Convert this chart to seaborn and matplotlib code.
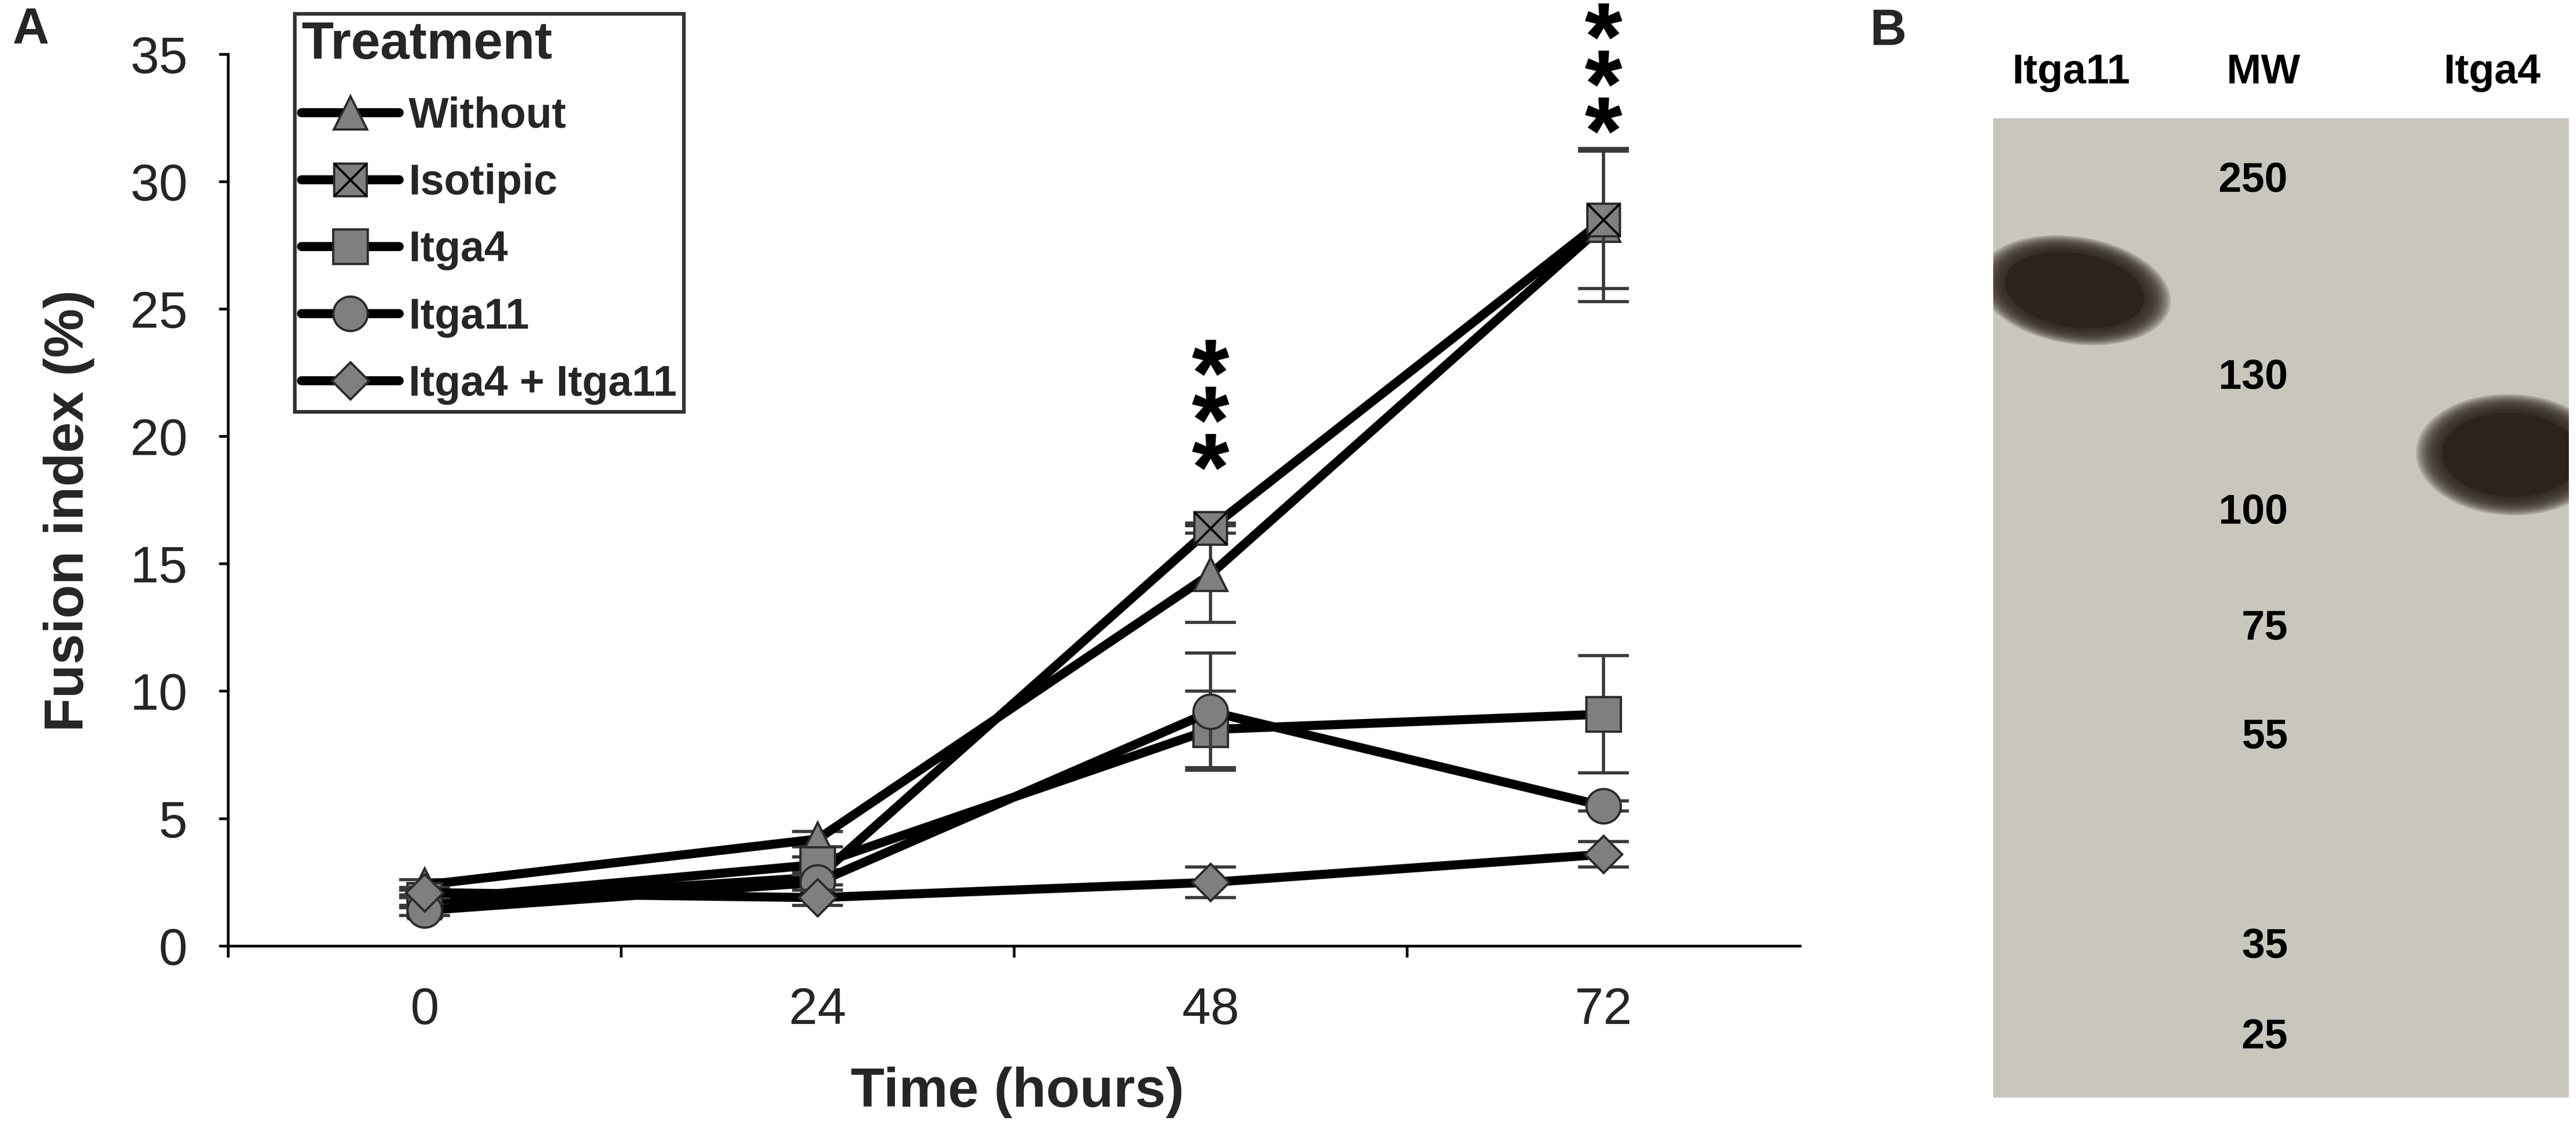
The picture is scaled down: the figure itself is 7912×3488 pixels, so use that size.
import matplotlib
matplotlib.use("Agg")
import matplotlib.pyplot as plt
from matplotlib.lines import Line2D
from matplotlib.patches import Ellipse
import numpy as np
import pandas as pd
import seaborn as sns

# ---- data ----
time_labels = ["0", "24", "48", "72"]
treatments = ["Without", "Isotipic", "Itga4", "Itga11", "Itga4 + Itga11"]

without = [2.4, 4.2, 14.6, 28.3]
without_se = [0.2, 0.3, 1.9, 3.0]
isotipic = [1.7, 2.7, 16.4, 28.5]
isotipic_se = [0.2, 0.3, 0.2, 2.7]
itga4 = [1.8, 3.2, 8.5, 9.1]
itga4_se = [0.2, 0.3, 1.5, 2.3]
itga11 = [1.4, 2.5, 9.2, 5.5]
itga11_se = [0.2, 0.3, 2.3, 0.2]
combo = [2.1, 1.9, 2.5, 3.6]
combo_se = [0.2, 0.3, 0.6, 0.5]

sig_time = ["48", "72"]
sig_stars = [3, 3]

# western blot
mw_ladder = [250, 130, 100, 75, 55, 35, 25]
lanes = ["Itga11", "MW", "Itga4"]
band_lane = ["Itga11", "Itga4"]
band_kda = [174, 112]

# ---- layout ----
ladder_y = [193, 798, 1212, 1568, 1902, 2545, 2823]   # gel pixel rows of ladder labels
lane_x = {"Itga11": 240, "MW": 830, "Itga4": 1532}
band_x = {"Itga11": 250, "Itga4": 1590}
band_shape = {"Itga11": (480, 265, 9), "Itga4": (470, 300, 2)}
gel_w, gel_h = 1768, 3007
star_base = [19.4, 32.6]
star_step = 1.85

GREY = "#7f7f7f"
EDGE = "#2b2b2b"
LW = 10
markers = {"Without": ("^", 37), "Isotipic": ("s", 36), "Itga4": ("s", 38),
           "Itga11": ("o", 38), "Itga4 + Itga11": ("D", 29)}

sns.set_theme(style="white")
plt.rcParams["font.family"] = ["Liberation Sans", "DejaVu Sans"]
plt.rcParams["mathtext.fontset"] = "custom"
plt.rcParams["mathtext.bf"] = "Liberation Sans:bold"

df = pd.DataFrame({
    "time": time_labels * len(treatments),
    "pos": list(range(len(time_labels))) * len(treatments),
    "treatment": np.repeat(treatments, len(time_labels)),
    "fusion": without + isotipic + itga4 + itga11 + combo,
    "se": without_se + isotipic_se + itga4_se + itga11_se + combo_se,
})

fig = plt.figure(figsize=(39.56, 17.44), dpi=200)
ax = fig.add_axes([0.0886, 0.1672, 0.6102, 0.7850])

for i, name in enumerate(treatments):
    sub = df[df["treatment"] == name]
    ax.errorbar(sub["pos"], sub["fusion"], yerr=sub["se"], fmt="none",
                ecolor="#3a3a3a", elinewidth=3.5, capsize=28, capthick=3.5,
                zorder=2 + i)
    m, ms = markers[name]
    sns.lineplot(data=sub, x="pos", y="fusion", ax=ax, color="black",
                 lw=LW, marker=m, markersize=ms, markerfacecolor=GREY,
                 markeredgecolor=EDGE, markeredgewidth=2.5,
                 errorbar=None, legend=False, zorder=2.5 + i)
    if name == "Isotipic":
        ax.plot(sub["pos"], sub["fusion"], ls="none", marker="x", ms=36,
                mec="black", mew=2.5, zorder=2.6 + i)

# significance stars
for t, n, base in zip(sig_time, sig_stars, star_base):
    xpos = time_labels.index(t)
    ys = [base + k * star_step for k in range(n)]
    ax.plot([xpos] * n, ys, ls="none", marker=r"$\mathbf{*}$", ms=40,
            color="black", clip_on=False, zorder=10)

ax.set_xlim(-0.5, 3.5)
ax.set_ylim(0, 35)
ax.set_yticks(range(0, 36, 5))
ax.set_yticklabels([str(v) for v in range(0, 36, 5)], fontsize=57)
ax.set_xticks([-0.5, 0.5, 1.5, 2.5])
ax.set_xticklabels([])
ax.set_xticks(range(len(time_labels)), minor=True)
ax.set_xticklabels(time_labels, minor=True, fontsize=57)
ax.tick_params(axis="x", which="major", direction="out", length=12.5, width=3,
               bottom=True, color="black")
ax.tick_params(axis="x", which="minor", length=0, pad=45)
ax.tick_params(axis="y", direction="out", length=10, width=3, pad=35,
               left=True, color="black")
sns.despine(ax=ax)
for sp in ["left", "bottom"]:
    ax.spines[sp].set_linewidth(3)
    ax.spines[sp].set_color("black")

ax.set_xlabel("Time (hours)", fontsize=61, fontweight="bold", va="center")
ax.xaxis.set_label_coords(0.502, -0.164)
ax.set_ylabel("Fusion index (%)", fontsize=61, fontweight="bold", va="center")
ax.yaxis.set_label_coords(-0.1015, 0.488)

# legend
handles = []
for name in treatments:
    m, ms = markers[name]
    h = Line2D([], [], color="black", lw=LW, marker=m, ms=ms, mfc=GREY,
               mec=EDGE, mew=2.5)
    if name == "Isotipic":
        h = (h, Line2D([], [], ls="none", marker="x", ms=36, mec="black", mew=2.5))
    handles.append(h)
leg = ax.legend(handles, treatments, title="Treatment", loc="upper left",
                bbox_to_anchor=(0.1144, 0.988), bbox_transform=fig.transFigure,
                prop={"size": 47, "weight": "bold"},
                title_fontproperties={"size": 58, "weight": "bold"},
                alignment="left", handlelength=2.3, handletextpad=0.22,
                labelspacing=0.63, borderpad=0.16, borderaxespad=0,
                frameon=True, fancybox=False, edgecolor="black")
leg.get_frame().set_linewidth(4)

# ---- panel B: western blot ----
gx = fig.add_axes([0.77376, 0.03383, 0.22346, 0.86210])
gx.set_xlim(0, gel_w)
gx.set_ylim(gel_h, 0)
gx.set_facecolor("#c9c7bd")
for sp in gx.spines.values():
    sp.set_visible(False)
gx.set_xticks([])
gx.set_yticks([])

neg_log = -np.log10(mw_ladder)
for lane, kda in zip(band_lane, band_kda):
    cy = np.interp(-np.log10(kda), neg_log, ladder_y)
    cx = band_x[lane]
    w, h, ang = band_shape[lane]
    for k in range(12):
        s = 1.24 - 0.03 * k
        gx.add_patch(Ellipse((cx, cy), w * s, h * s, angle=ang,
                             color="#2c261f", alpha=0.2, lw=0))
    gx.add_patch(Ellipse((cx, cy), w * 0.9, h * 0.86, angle=ang,
                         color="#2a241d", lw=0))

for kda, y in zip(mw_ladder, ladder_y):
    gx.text(905, y, str(kda), ha="right", va="center", fontsize=46,
            fontweight="bold", color="black")
for lane in lanes:
    gx.text(lane_x[lane], -140, lane, ha="center", va="center", fontsize=46,
            fontweight="bold", color="black", clip_on=False)

fig.text(94 / 7912, 1 - 92 / 3488, "A", ha="center", va="center",
         fontsize=56, fontweight="bold")
fig.text(5800 / 7912, 1 - 97 / 3488, "B", ha="center", va="center",
         fontsize=56, fontweight="bold")

fig.savefig("out.png", dpi=200, facecolor="white")
